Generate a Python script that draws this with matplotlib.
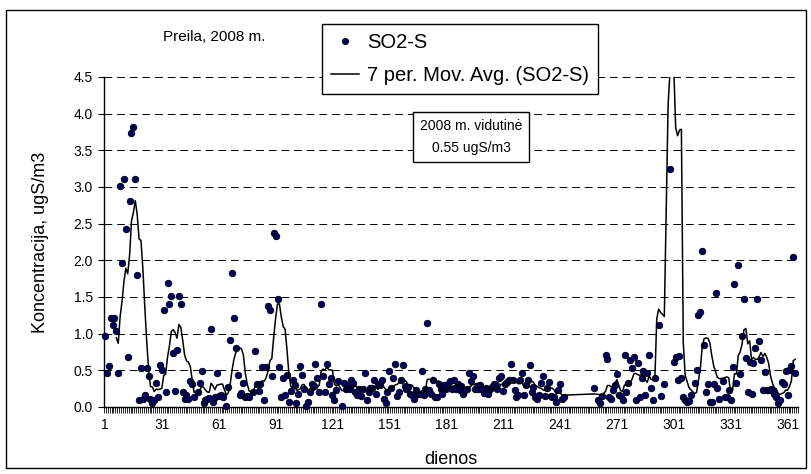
import numpy as np
import pandas as pd
from matplotlib import pyplot as plt
from matplotlib.patches import Rectangle
from matplotlib.lines import Line2D

plt.rcParams['font.family'] = ['Liberation Sans', 'DejaVu Sans']
plt.rcParams['font.size'] = 10

# Paros (dienos) ir SO2-S koncentracija, ugS/m3
dienos = [
    1, 2, 3, 4, 5, 6, 7, 8, 9, 10, 11, 12, 13, 14, 15, 16, 17, 18, 19, 20,
    21, 22, 23, 24, 25, 26, 27, 28, 29, 30, 31, 32, 33, 34, 35, 36, 37, 38, 39, 40,
    41, 42, 43, 44, 45, 46, 47, 48, 50, 51, 52, 53, 54, 55, 56, 57, 58, 59, 60,
    61, 62, 63, 65, 66, 67, 68, 69, 70, 71, 72, 73, 74, 75, 76, 77, 79, 80,
    81, 82, 83, 84, 85, 86, 87, 88, 89, 90, 91, 92, 93, 94, 95, 96, 97, 98, 99, 100,
    101, 102, 103, 104, 105, 106, 107, 108, 109, 110, 111, 112, 113, 114, 115, 116, 117, 118, 119, 120,
    121, 122, 123, 124, 126, 127, 128, 129, 130, 131, 132, 133, 134, 135, 136, 137, 138, 139, 140,
    141, 142, 143, 144, 145, 146, 147, 148, 149, 150, 151, 152, 153, 154, 155, 156, 157, 158, 159, 160,
    161, 162, 163, 164, 165, 166, 167, 168, 169, 170, 171, 172, 173, 174, 175, 176, 177, 178, 179, 180,
    181, 182, 183, 184, 185, 186, 187, 188, 189, 190, 191, 192, 193, 194, 195, 196, 197, 198, 199, 200,
    201, 202, 203, 204, 205, 206, 207, 208, 209, 210, 211, 212, 213, 214, 215, 216, 217, 218, 219, 220,
    221, 222, 223, 224, 225, 226, 227, 228, 229, 230, 231, 232, 233, 234, 235, 236, 237, 238, 239, 240,
    241, 242, 243, 259, 261, 262, 263, 265, 266, 267, 268, 269, 270,
    271, 272, 273, 274, 275, 276, 277, 278, 279, 280,
    281, 282, 283, 284, 285, 286, 287, 288, 289, 290, 291, 292, 293, 294, 296, 298, 299,
    301, 302, 303, 304, 305, 306, 307, 308, 309, 310, 312, 313, 314, 315, 316, 317, 318, 319, 320,
    321, 322, 323, 324, 325, 327, 328, 329, 330, 331, 332, 333, 334, 335, 336, 337, 338, 339, 340,
    341, 342, 343, 344, 345, 346, 347, 348, 349, 350, 351, 352, 353, 354, 355, 356, 357, 358, 359, 360,
    361, 362, 363, 364, 365,
]
# 292 ir 298 dienos reiksmes virsija skale (matyti tik is slankiojo vidurkio)
so2 = [
    0.97, 0.46, 0.56, 1.22, 1.12, 1.22, 1.04, 0.46, 3.02, 1.97, 3.11, 2.43, 0.68, 2.81, 3.74, 3.82, 3.11, 1.80, 0.09, 0.53,
    0.11, 0.17, 0.53, 0.42, 0.11, 0.05, 0.09, 0.33, 0.14, 0.57, 0.50, 1.32, 0.20, 1.69, 1.41, 1.52, 0.74, 0.22, 0.78, 1.52,
    1.41, 0.20, 0.11, 0.16, 0.11, 0.36, 0.31, 0.14, 0.21, 0.33, 0.49, 0.05, 0.10, 0.11, 0.12, 1.07, 0.07, 0.14, 0.47,
    0.15, 0.16, 0.13, 0.02, 0.27, 0.92, 1.83, 1.21, 0.81, 0.44, 0.16, 0.19, 0.33, 0.14, 0.15, 0.14, 0.21, 0.77,
    0.31, 0.22, 0.31, 0.55, 0.09, 0.55, 1.38, 1.32, 0.42, 2.37, 2.33, 1.47, 0.55, 0.14, 0.40, 0.16, 0.44, 0.07, 0.22, 0.37,
    0.30, 0.05, 0.18, 0.56, 0.44, 0.25, 0.02, 0.07, 0.21, 0.31, 0.28, 0.59, 0.40, 0.21, 1.41, 0.42, 0.21, 0.59, 0.31, 0.40,
    0.16, 0.10, 0.23, 0.35, 0.01, 0.33, 0.25, 0.30, 0.25, 0.37, 0.33, 0.21, 0.16, 0.24, 0.15, 0.25, 0.47, 0.09, 0.21,
    0.26, 0.26, 0.37, 0.18, 0.32, 0.30, 0.37, 0.11, 0.05, 0.21, 0.49, 0.26, 0.40, 0.59, 0.15, 0.21, 0.37, 0.57, 0.28, 0.24,
    0.27, 0.18, 0.17, 0.11, 0.23, 0.18, 0.18, 0.49, 0.17, 0.25, 1.14, 0.23, 0.18, 0.37, 0.14, 0.13, 0.31, 0.24, 0.18, 0.30,
    0.24, 0.32, 0.36, 0.25, 0.37, 0.25, 0.31, 0.23, 0.28, 0.18, 0.23, 0.24, 0.47, 0.36, 0.42, 0.24, 0.28, 0.24, 0.30, 0.25,
    0.19, 0.26, 0.18, 0.24, 0.27, 0.31, 0.30, 0.24, 0.39, 0.42, 0.22, 0.31, 0.34, 0.37, 0.59, 0.37, 0.23, 0.14, 0.17, 0.37,
    0.47, 0.17, 0.30, 0.37, 0.57, 0.21, 0.27, 0.14, 0.11, 0.16, 0.33, 0.42, 0.15, 0.26, 0.34, 0.15, 0.14, 0.14, 0.07, 0.23,
    0.31, 0.11, 0.13, 0.26, 0.09, 0.05, 0.15, 0.71, 0.66, 0.14, 0.11, 0.23, 0.30,
    0.45, 0.17, 0.15, 0.09, 0.71, 0.21, 0.33, 0.64, 0.53, 0.68,
    0.10, 0.60, 0.14, 0.40, 0.49, 0.16, 0.47, 0.71, 0.26, 0.09, 0.40, 6.30, 1.12, 0.15, 0.32, 20.5, 3.25,
    0.62, 0.68, 0.37, 0.69, 0.40, 0.14, 0.10, 0.07, 0.08, 0.16, 0.33, 0.51, 1.26, 1.30, 2.13, 0.84, 0.21, 0.32, 0.07,
    0.07, 0.32, 1.56, 0.26, 0.11, 0.36, 0.13, 0.13, 0.23, 0.10, 0.54, 1.68, 0.33, 1.93, 0.45, 0.97, 1.47, 0.67, 0.21,
    0.62, 0.18, 0.60, 0.80, 1.47, 0.90, 0.64, 0.23, 0.48, 0.23, 0.23, 0.25, 0.23, 0.18, 0.14, 0.05, 0.10, 0.34, 0.32, 0.49,
    0.16, 0.51, 0.56, 2.04, 0.47,
]
x_zymos = list(range(1, 362, 30))
y_zymos = [0.0, 0.5, 1.0, 1.5, 2.0, 2.5, 3.0, 3.5, 4.0, 4.5]

df = pd.DataFrame({'diena': dienos, 'so2': so2})
df['slank'] = df['so2'].rolling(7).mean()

W, H = 811, 474
fig = plt.figure(figsize=(W / 100, H / 100), dpi=100)
ax = fig.add_axes([104 / W, 1 - 407 / H, 694 / W, 330 / H])

matomi = df[df['so2'] <= 4.5]
ax.scatter(matomi['diena'], matomi['so2'], s=22, color='#000066', edgecolors='black',
           linewidths=0.6, zorder=3, clip_on=False, label='SO2-S')
ax.plot(df['diena'], df['slank'], color='black', lw=1.1, zorder=4,
        label='7 per. Mov. Avg. (SO2-S)')

ax.set_xlim(0.5, 366.5)
ax.set_ylim(0, 4.5)
ax.set_yticks(y_zymos)
ax.set_yticklabels(['%.1f' % v for v in y_zymos])
ax.set_xticks(x_zymos)
ax.set_xticks(np.arange(0.5, 367, 1), minor=True)
ax.tick_params(axis='x', which='major', length=0, pad=8, labelsize=10)
ax.tick_params(axis='x', which='minor', length=4, width=0.6, color='black')
ax.tick_params(axis='y', length=4, width=0.8, pad=4, labelsize=10)

for v in y_zymos[1:]:
    ax.axhline(v, color='black', lw=0.7, dashes=(8, 5), zorder=1)

for s in ['top', 'right']:
    ax.spines[s].set_visible(False)
ax.spines['left'].set_linewidth(1.0)
ax.spines['bottom'].set_linewidth(1.0)

ax.set_ylabel('Koncentracija, ugS/m3', fontsize=13)
ax.yaxis.set_label_coords((49 - 104) / 694, 0.5)
ax.set_xlabel('dienos', fontsize=13)
ax.xaxis.set_label_coords(0.5, (407 - 451) / 330)

leg_handles = [
    Line2D([], [], ls='none', marker='o', markersize=4.5, markerfacecolor='#000066',
           markeredgecolor='black', markeredgewidth=0.6),
    Line2D([], [], color='black', lw=1.1),
]
leg = ax.legend(leg_handles, ['SO2-S', '7 per. Mov. Avg. (SO2-S)'], loc='upper left',
                bbox_to_anchor=(322 / W, 1 - 24 / H), bbox_transform=fig.transFigure,
                fancybox=False, framealpha=1, edgecolor='black', fontsize=14.5,
                borderpad=0.45, labelspacing=0.7, handlelength=1.4, handletextpad=0.4,
                borderaxespad=0)
leg.get_frame().set_linewidth(1.0)
leg.set_zorder(10)

fig.text(163 / W, 1 - 37 / H, 'Preila, 2008 m.', fontsize=11, va='center', ha='left')
fig.text(471 / W, 1 - 137 / H, '2008 m. vidutinė\n0.55 ugS/m3', fontsize=10,
         ha='center', va='center', linespacing=1.8,
         bbox=dict(boxstyle='square,pad=0.5', facecolor='white', edgecolor='black', lw=1.0))

fig.patches.append(Rectangle((6 / W, 1 - 468 / H), 800 / W, 458 / H, transform=fig.transFigure,
                             fill=False, edgecolor='black', lw=1.0))

fig.savefig('out.png', dpi=100)
